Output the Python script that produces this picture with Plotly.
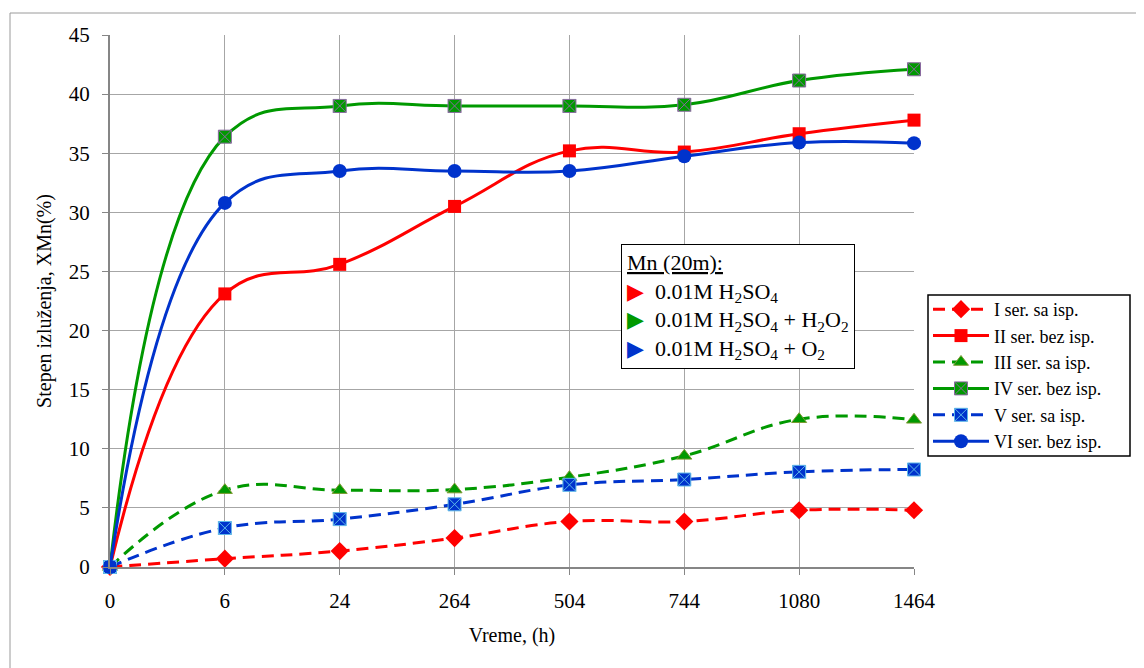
import plotly.graph_objects as go

# ---- data ----
categories = ["0", "6", "24", "264", "504", "744", "1080", "1464"]
ser_I   = [0.0, 0.7, 1.35, 2.45, 3.85, 3.85, 4.8, 4.8]
ser_II  = [0.0, 23.1, 25.6, 30.5, 35.2, 35.1, 36.65, 37.8]
ser_III = [0.0, 6.5, 6.5, 6.55, 7.6, 9.4, 12.5, 12.45]
ser_IV  = [0.0, 36.4, 39.0, 39.0, 39.0, 39.1, 41.15, 42.1]
ser_V   = [0.0, 3.3, 4.05, 5.3, 6.95, 7.4, 8.05, 8.25]
ser_VI  = [0.0, 30.8, 33.5, 33.5, 33.5, 34.75, 35.9, 35.85]
names = ["I ser. sa isp.", "II ser. bez isp.", "III ser. sa isp.",
         "IV ser. bez isp.", "V ser. sa isp.", "VI ser. bez isp."]

# page has an 8px body margin: compensate so the figure lands on screen coords
OFF = 8
W, H = 1144 - OFF, 668 - OFF
L, R, T, B = 110, 914, 35, 567          # target screen coords of plot area
FONT = "Liberation Serif, Times New Roman, serif"

RED, GREEN, BLUE = "#ff0000", "#009900", "#0033cc"
xi = list(range(len(categories)))

styles = [
    (ser_I,   RED,   "12px,7px", dict(symbol="diamond", size=14, color=RED, line=dict(width=0))),
    (ser_II,  RED,   "solid",    dict(symbol="square", size=13, color=RED, line=dict(width=0))),
    (ser_III, GREEN, "12px,7px", dict(symbol="triangle-up", size=13, color=GREEN, line=dict(width=1, color="#7a9a30"))),
    (ser_IV,  GREEN, "solid",    dict(symbol="square-x", size=13, color=GREEN, line=dict(width=1, color="#8a6aa0"))),
    (ser_V,   BLUE,  "12px,7px", dict(symbol="square-x", size=13, color=BLUE, line=dict(width=1, color="#5fb8e8"))),
    (ser_VI,  BLUE,  "solid",    dict(symbol="circle", size=14, color=BLUE, line=dict(width=0))),
]

fig = go.Figure()
for (vals, col, dash, mk), nm in zip(styles, names):
    fig.add_trace(go.Scatter(
        x=xi, y=vals, name=nm, mode="lines+markers",
        line=dict(color=col, width=3, dash=dash, shape="spline", smoothing=1.2),
        marker=mk, cliponaxis=False,
    ))

def px_x(p):
    return (p - L) / (R - L)

def px_y(p):
    return (B - p) / (B - T)

ann_text = ("<u>Mn (20m):</u><br>"
            "<span style='color:#ff0000'>▶</span>  0.01M H<sub>2</sub>SO<sub>4</sub><br>"
            "<span style='color:#009900'>▶</span>  0.01M H<sub>2</sub>SO<sub>4</sub> + H<sub>2</sub>O<sub>2</sub><br>"
            "<span style='color:#0033cc'>▶</span>  0.01M H<sub>2</sub>SO<sub>4</sub> + O<sub>2</sub>")

fig.update_layout(
    width=W, height=H,
    margin=dict(l=L - OFF, r=W - (R - OFF), t=T - OFF, b=H - (B - OFF)),
    paper_bgcolor="white", plot_bgcolor="white",
    font=dict(family=FONT, size=21, color="black"),
    showlegend=True,
    legend=dict(x=px_x(928), y=px_y(291), xanchor="left", yanchor="top",
                borderwidth=0, bgcolor="rgba(0,0,0,0)",
                font=dict(family=FONT, size=18), itemwidth=56),
    xaxis=dict(range=[0, 7], tickvals=xi, ticktext=categories,
               showgrid=True, gridcolor="#a6a6a6", gridwidth=1,
               showline=True, linecolor="#868686", linewidth=2,
               ticks="outside", ticklen=6, tickcolor="#868686",
               tickfont=dict(size=21), zeroline=False, ticklabelstandoff=8,
               title=dict(text="Vreme, (h)", font=dict(size=20), standoff=16)),
    yaxis=dict(range=[0, 45], dtick=5,
               showgrid=True, gridcolor="#a6a6a6", gridwidth=1,
               showline=True, linecolor="#868686", linewidth=2,
               ticks="outside", ticklen=6, tickcolor="#868686",
               tickfont=dict(size=21), zeroline=False, ticklabelstandoff=8,
               title=dict(text="Stepen izluženja, XMn(%)", font=dict(size=20), standoff=12)),
    annotations=[dict(
        xref="paper", yref="paper", x=px_x(621), y=px_y(244),
        xanchor="left", yanchor="top", align="left", showarrow=False,
        text=ann_text, font=dict(family=FONT, size=22, color="black"),
        bordercolor="black", borderwidth=1, bgcolor="white", borderpad=5,
    )],
    shapes=[
        dict(type="rect", xref="paper", yref="paper",
             x0=px_x(10), x1=px_x(1170), y0=px_y(700), y1=px_y(13),
             line=dict(color="#9a9a9a", width=1), layer="below"),
        dict(type="rect", xref="paper", yref="paper",
             x0=px_x(928), x1=px_x(1130), y0=px_y(456), y1=px_y(295),
             line=dict(color="black", width=1.5), fillcolor="white", layer="above"),
    ],
)

fig.write_html("out.html")
